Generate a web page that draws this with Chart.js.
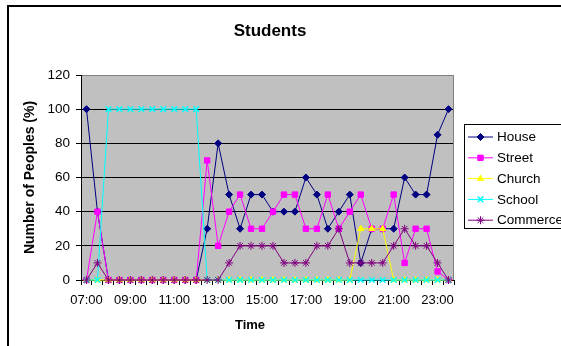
<!DOCTYPE html>
<html lang="en">
<head>
  <meta charset="UTF-8" />
  <title>Students</title>
  <script src="https://cdn.jsdelivr.net/npm/chart.js"></script>
  <style>
    body { margin: 0; background: #fff; overflow: hidden; }
    #wrap { width: 561px; height: 346px; }
  </style>
</head>
<body>
  <div id="wrap"><canvas id="studentsChart" width="561" height="346"></canvas></div>

  <script>
    // half-hour slots, 07:00 .. 23:30
    const times = ['07:00','07:30','08:00','08:30','09:00','09:30','10:00','10:30','11:00','11:30',
                   '12:00','12:30','13:00','13:30','14:00','14:30','15:00','15:30','16:00','16:30',
                   '17:00','17:30','18:00','18:30','19:00','19:30','20:00','20:30','21:00','21:30',
                   '22:00','22:30','23:00','23:30'];

    const house    = [100,40,0,0,0,0,0,0,0,0,0,30,80,50,30,50,50,40,40,40,60,50,30,40,50,10,30,30,30,60,50,50,85,100];
    const street   = [0,40,0,0,0,0,0,0,0,0,0,70,20,40,50,30,30,40,50,50,30,30,50,30,40,50,30,30,50,10,30,30,5,0];
    const church   = [0,0,0,0,0,0,0,0,0,0,0,0,0,0,0,0,0,0,0,0,0,0,0,0,0,30,30,30,0,0,0,0,0,0];
    const school   = [0,0,100,100,100,100,100,100,100,100,100,0,0,0,0,0,0,0,0,0,0,0,0,0,0,0,0,0,0,0,0,0,0,0];
    const commerce = [0,10,0,0,0,0,0,0,0,0,0,0,0,10,20,20,20,20,10,10,10,20,20,30,10,10,10,10,20,30,20,20,10,0];

    const yTicks = [0, 20, 40, 60, 80, 100, 120];

    const FONT = "'Liberation Sans', Arial, sans-serif";

    function series(label, data, color, pointStyle, radius, order, markerWidth) {
      return {
        label, data, order,
        borderColor: color, backgroundColor: color,
        pointBorderColor: color, pointBackgroundColor: color,
        borderWidth: 1, tension: 0, clip: false,
        pointStyle, pointRadius: radius, pointBorderWidth: markerWidth || 1
      };
    }

    // frame, plot background, titles and the boxed legend (Excel look)
    const excelLook = {
      id: 'excelLook',
      beforeDraw(chart) {
        const ctx = chart.ctx, a = chart.chartArea;
        ctx.save();
        ctx.fillStyle = '#fff';
        ctx.fillRect(0, 0, chart.width, chart.height);
        ctx.strokeStyle = '#000';
        ctx.lineWidth = 2;
        ctx.strokeRect(8, 6, 700, 700);
        ctx.fillStyle = '#c0c0c0';
        ctx.fillRect(a.left, a.top, a.right - a.left, a.bottom - a.top);
        ctx.restore();
      },
      beforeDatasetsDraw(chart) {
        const ctx = chart.ctx, a = chart.chartArea;
        ctx.save();
        ctx.strokeStyle = '#808080';
        ctx.lineWidth = 1;
        ctx.beginPath();
        ctx.moveTo(Math.round(a.right) - 0.5, a.top);
        ctx.lineTo(Math.round(a.right) - 0.5, a.bottom);
        ctx.stroke();
        ctx.restore();
      },
      afterDraw(chart) {
        const ctx = chart.ctx;
        ctx.save();
        ctx.fillStyle = '#000';
        ctx.textAlign = 'center';
        ctx.textBaseline = 'middle';
        ctx.font = 'bold 17px ' + FONT;
        ctx.fillText('Students', 270, 31);
        ctx.font = 'bold 13px ' + FONT;
        ctx.fillText('Time', 250, 325);

        // legend
        ctx.strokeStyle = '#000';
        ctx.lineWidth = 1;
        ctx.strokeRect(464.5, 124.5, 120, 104);
        ctx.font = '13.5px ' + FONT;
        ctx.textAlign = 'left';
        chart.data.datasets.forEach((ds, i) => {
          const y = 137 + i * 20.8;
          ctx.strokeStyle = ds.borderColor;
          ctx.fillStyle = ds.borderColor;
          ctx.lineWidth = 1;
          ctx.beginPath();
          ctx.moveTo(468, y);
          ctx.lineTo(493, y);
          ctx.stroke();
          ctx.lineWidth = ds.pointBorderWidth;
          Chart.helpers.drawPoint(ctx, { pointStyle: ds.pointStyle, radius: ds.pointRadius, rotation: 0, borderWidth: ds.pointBorderWidth }, 480.5, y);
          ctx.fillStyle = '#000';
          ctx.fillText(ds.label, 497, y + 0.5);
        });
        ctx.restore();
      }
    };

    new Chart(document.getElementById('studentsChart'), {
      type: 'line',
      data: {
        labels: times,
        datasets: [
          series('House', house, '#000080', 'rectRot', 3.5, 4),
          series('Street', street, '#ff00ff', 'rect', 3.8, 3),
          series('Church', church, '#ffff00', 'triangle', 3.5, 2),
          series('School', school, '#00ffff', 'crossRot', 4, 1, 1.5),
          series('Commerce', commerce, '#800080', 'star', 4, 0)
        ]
      },
      options: {
        responsive: false,
        animation: false,
        devicePixelRatio: 1,
        layout: { padding: { left: 0, top: 75, right: 107, bottom: 0 } },
        plugins: {
          legend: { display: false },
          title: { display: false },
          tooltip: { enabled: false }
        },
        scales: {
          x: {
            type: 'category',
            offset: true,
            afterFit(scale) { scale.height = 66; },
            grid: { offset: true, drawOnChartArea: false, tickLength: 5, color: '#000', tickColor: '#000' },
            border: { color: '#000', width: 1 },
            ticks: {
              autoSkip: false, maxRotation: 0, padding: 8,
              color: '#000', font: { family: FONT, size: 13 },
              callback(v, i) { return i % 4 === 0 ? times[i] : ''; }
            }
          },
          y: {
            min: 0, max: 120,
            afterFit(scale) { scale.width = 81; },
            afterBuildTicks(scale) { scale.ticks = yTicks.map(v => ({ value: v })); },
            grid: {
              tickLength: 5, tickColor: '#000', lineWidth: 1,
              color(c) { return c.tick && c.tick.value === 120 ? '#808080' : '#000'; }
            },
            border: { color: '#000', width: 1 },
            ticks: { padding: 6, color: '#000', font: { family: FONT, size: 13.5 } },
            title: {
              display: true, text: 'Number of Peoples (%)', color: '#000',
              font: { family: FONT, size: 14, weight: 'bold' },
              padding: { top: 22, bottom: 0 }
            }
          }
        }
      },
      plugins: [excelLook]
    });
  </script>
</body>
</html>
